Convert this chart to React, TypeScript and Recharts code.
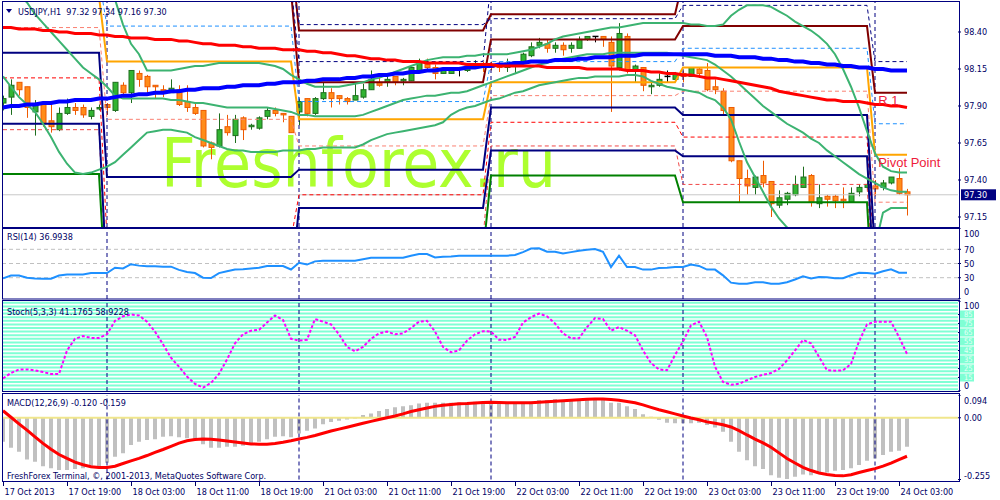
import React from 'react';
import { ComposedChart, Bar, Line, XAxis, YAxis, ReferenceLine, ReferenceDot } from 'recharts';

const FONT = "'DejaVu Sans Condensed', 'DejaVu Sans', sans-serif";
const INK = '#000064';
const NAVY = '#000080';

// ---------- candles (USDJPY H1, bar 0 = 17 Oct 11:00) ----------
const opens = [
  97.92,97.96,98.06,98.03,97.86,97.91,97.80,97.74,97.85,97.89,
  97.89,97.83,97.88,97.91,97.87,98.04,97.99,98.12,98.10,98.04,
  98.01,97.99,98.01,97.93,97.89,97.87,97.65,97.63,97.76,97.70,
  97.82,97.76,97.75,97.83,97.87,97.85,97.83,97.86,97.95,97.85,
  97.95,97.99,97.97,97.95,97.94,97.96,98.01,98.06,98.06,98.10,
  98.07,98.07,98.14,98.18,98.16,98.12,98.12,98.15,98.14,98.16,
  98.18,98.18,98.17,98.16,98.18,98.20,98.24,98.31,98.32,98.29,
  98.31,98.29,98.29,98.35,98.37,98.37,98.33,98.16,98.37,98.14,
  98.16,98.03,98.04,98.10,98.08,98.12,98.10,98.15,98.14,98.03,
  98.00,97.89,97.53,97.41,97.35,97.43,97.39,97.23,97.27,97.30,
  97.35,97.43,97.24,97.29,97.29,97.27,97.25,97.32,97.35,97.36,
  97.35,97.38,97.41,97.32];
const highs = [
  97.97,98.08,98.06,98.03,97.94,97.93,97.92,97.89,97.95,97.92,
  97.91,97.89,97.91,97.92,98.06,98.06,98.14,98.14,98.11,98.04,
  98.04,98.08,98.04,98.04,97.92,97.87,97.66,97.85,97.84,97.84,
  97.83,97.78,97.83,97.89,97.89,97.85,97.83,97.95,97.95,97.96,
  98.06,98.02,97.97,97.96,98.06,98.05,98.14,98.11,98.10,98.10,
  98.09,98.16,98.22,98.22,98.18,98.16,98.16,98.16,98.19,98.21,
  98.20,98.20,98.20,98.22,98.20,98.26,98.33,98.36,98.35,98.33,
  98.33,98.33,98.37,98.37,98.37,98.37,98.37,98.46,98.39,98.18,
  98.16,98.06,98.12,98.14,98.13,98.14,98.16,98.16,98.19,98.08,
  98.02,97.89,97.53,97.47,97.43,97.53,97.39,97.33,97.32,97.43,
  97.49,97.44,97.37,97.30,97.30,97.35,97.35,97.37,97.40,97.40,
  97.40,97.42,97.48,97.34];
const lows = [
  97.87,97.84,97.97,97.82,97.70,97.76,97.72,97.73,97.84,97.84,
  97.82,97.81,97.87,97.84,97.86,97.96,97.92,98.03,97.99,97.95,
  97.96,97.99,97.90,97.86,97.84,97.62,97.54,97.62,97.70,97.65,
  97.67,97.74,97.74,97.81,97.83,97.79,97.72,97.77,97.83,97.84,
  97.94,97.89,97.91,97.91,97.94,97.95,98.01,98.03,98.03,98.04,
  98.04,98.07,98.14,98.14,98.08,98.12,98.12,98.10,98.13,98.16,
  98.13,98.14,98.13,98.13,98.12,98.18,98.23,98.29,98.26,98.26,
  98.24,98.26,98.29,98.34,98.33,98.30,97.86,98.14,98.12,98.06,
  98.00,97.98,98.03,98.06,98.08,98.06,98.10,98.09,98.00,97.98,
  97.84,97.52,97.25,97.30,97.30,97.35,97.15,97.21,97.23,97.29,
  97.35,97.22,97.21,97.22,97.21,97.21,97.25,97.29,97.33,97.29,
  97.33,97.37,97.30,97.16];
const closes = [
  97.95,98.04,98.01,97.89,97.91,97.78,97.76,97.85,97.89,97.87,
  97.84,97.87,97.89,97.89,98.06,97.99,98.14,98.08,98.03,98.03,
  98.00,98.02,97.91,97.89,97.85,97.63,97.62,97.74,97.72,97.81,
  97.74,97.77,97.82,97.87,97.85,97.84,97.72,97.93,97.85,97.95,
  97.99,97.95,97.95,97.93,97.97,98.01,98.08,98.04,98.08,98.06,
  98.08,98.16,98.20,98.16,98.12,98.14,98.14,98.15,98.17,98.18,
  98.17,98.16,98.16,98.19,98.20,98.25,98.30,98.33,98.29,98.31,
  98.28,98.31,98.35,98.37,98.37,98.35,98.17,98.39,98.14,98.17,
  98.04,98.04,98.08,98.10,98.12,98.10,98.16,98.12,98.01,98.01,
  97.87,97.53,97.41,97.36,97.42,97.38,97.24,97.28,97.31,97.37,
  97.42,97.25,97.28,97.27,97.26,97.26,97.31,97.35,97.37,97.34,
  97.38,97.42,97.31,97.30];

// ---------- moving averages ----------
const redMA = [
  98.43,98.43,98.42,98.42,98.42,98.41,98.41,98.40,98.40,98.39,
  98.39,98.39,98.38,98.38,98.37,98.37,98.36,98.36,98.36,98.35,
  98.35,98.35,98.34,98.34,98.33,98.32,98.32,98.31,98.31,98.31,
  98.30,98.30,98.29,98.29,98.29,98.28,98.28,98.28,98.27,98.27,
  98.26,98.26,98.25,98.24,98.24,98.23,98.22,98.22,98.21,98.21,
  98.20,98.20,98.20,98.19,98.19,98.19,98.19,98.19,98.18,98.18,
  98.18,98.18,98.17,98.17,98.17,98.17,98.17,98.17,98.16,98.16,
  98.16,98.16,98.16,98.15,98.15,98.15,98.15,98.15,98.14,98.14,
  98.14,98.13,98.13,98.12,98.12,98.11,98.11,98.10,98.09,98.09,
  98.08,98.07,98.06,98.05,98.04,98.03,98.02,98.00,97.99,97.98,
  97.97,97.96,97.95,97.94,97.94,97.93,97.93,97.93,97.92,97.91,
  97.91,97.90,97.90,97.89];
const blueMA = [
  97.89,97.90,97.90,97.91,97.91,97.92,97.92,97.93,97.93,97.94,
  97.94,97.94,97.95,97.95,97.96,97.97,97.97,97.98,97.98,97.99,
  97.99,98.00,98.00,98.01,98.01,98.02,98.02,98.02,98.03,98.03,
  98.04,98.04,98.04,98.05,98.05,98.06,98.06,98.06,98.07,98.07,
  98.08,98.08,98.08,98.09,98.09,98.10,98.10,98.11,98.11,98.12,
  98.12,98.13,98.13,98.14,98.14,98.15,98.15,98.15,98.16,98.16,
  98.17,98.17,98.18,98.18,98.19,98.19,98.20,98.20,98.20,98.21,
  98.21,98.21,98.22,98.22,98.23,98.23,98.23,98.24,98.24,98.24,
  98.25,98.25,98.25,98.25,98.25,98.25,98.25,98.25,98.25,98.24,
  98.24,98.24,98.23,98.23,98.23,98.22,98.22,98.21,98.21,98.20,
  98.20,98.19,98.19,98.18,98.18,98.17,98.17,98.16,98.16,98.15,
  98.15,98.14,98.14,98.14];

// ---------- Bollinger bands ----------
const bbUpper = [
  99.20,99.15,99.10,99.05,99.00,98.96,98.92,98.88,98.84,98.80,98.77,98.74,98.71,98.67,
  98.62,98.45,98.32,98.25,98.14,98.14,98.14,98.14,98.15,98.16,
  98.17,98.17,98.18,98.19,98.19,98.19,98.19,98.19,98.19,98.18,
  98.17,98.15,98.11,98.08,98.05,98.03,98.03,98.03,98.03,98.04,
  98.05,98.06,98.08,98.09,98.11,98.13,98.15,98.17,98.19,98.21,
  98.22,98.23,98.23,98.23,98.24,98.24,98.25,98.25,98.25,98.25,
  98.26,98.27,98.28,98.30,98.32,98.35,98.37,98.38,98.39,98.40,
  98.41,98.42,98.43,98.43,98.44,98.45,98.46,98.46,98.46,98.46,
  98.46,98.46,98.45,98.45,98.44,98.44,98.45,98.51,98.55,98.58,
  98.58,98.58,98.57,98.54,98.51,98.47,98.44,98.41,98.37,98.32,
  98.25,98.15,98.03,97.89,97.73,97.58,97.49,97.46,97.45,97.45];
const bbMiddle = [
  98.80,98.72,98.65,98.60,98.52,98.46,98.40,98.34,98.28,98.22,
  98.16,98.12,98.08,98.03,97.97,97.95,97.95,97.95,97.95,97.95,
  97.95,97.94,97.94,97.93,97.92,97.92,97.91,97.90,97.89,97.89,
  97.89,97.89,97.89,97.89,97.88,97.87,97.86,97.84,97.84,97.83,
  97.83,97.83,97.83,97.83,97.83,97.84,97.86,97.88,97.90,97.92,
  97.94,97.95,97.96,97.97,97.97,97.98,97.99,97.99,98.00,98.02,
  98.04,98.06,98.08,98.10,98.12,98.14,98.16,98.18,98.19,98.21,
  98.22,98.23,98.24,98.25,98.25,98.25,98.26,98.26,98.26,98.26,
  98.26,98.26,98.26,98.26,98.25,98.24,98.23,98.22,98.21,98.18,
  98.14,98.10,98.05,98.00,97.95,97.90,97.86,97.82,97.78,97.75,
  97.72,97.68,97.65,97.60,97.56,97.52,97.48,97.44,97.41,97.38,
  97.35,97.33,97.32,97.32];
const bbLower = [
  98.10,98.03,97.96,97.91,97.86,97.78,97.69,97.59,97.51,97.45,
  97.44,97.45,97.47,97.49,97.52,97.57,97.62,97.67,97.72,97.73,
  97.74,97.74,97.73,97.72,97.69,97.67,97.65,97.63,97.61,97.60,
  97.60,97.59,97.59,97.59,97.59,97.60,97.60,97.60,97.61,97.61,
  97.62,97.62,97.62,97.62,97.62,97.64,97.67,97.69,97.71,97.72,
  97.73,97.74,97.75,97.76,97.77,97.79,97.84,97.87,97.89,97.90,
  97.92,97.94,97.95,97.97,97.99,98.00,98.02,98.04,98.05,98.06,
  98.07,98.08,98.09,98.09,98.10,98.10,98.10,98.10,98.11,98.11,
  98.10,98.07,98.05,98.03,98.02,98.01,98.00,97.99,97.96,97.94,
  97.89,97.81,97.66,97.52,97.42,97.32,97.22,97.14,97.08,97.03,
  96.98,96.95,96.92,96.90,96.88,96.87,96.87,96.87,96.88,96.95,
  97.18,97.21,97.21,97.21];

// ---------- daily pivot levels (one value per trading day) ----------
const dayStarts = [0, 13, 37, 61, 85, 109];
const pivR2 = [99.20, 98.95, 98.41, 98.52, 98.75, 98.75];
const pivR1 = [98.90, 98.68, 98.06, 98.35, 98.44, 97.99];
const pivN1 = [99.05, 98.80, 98.45, 98.49, 98.58, 98.20];
const pivN2 = [98.95, 98.72, 98.20, 98.75, 98.90, 98.70];
const pivM4 = [98.76, 98.44, 97.93, 98.20, 98.29, 97.78];
const pivP = [98.64, 98.20, 97.81, 98.06, 98.16, 97.57];
const pivM3 = [98.43, 97.81, 97.63, 97.97, 98.00, 97.25];
const pivS1 = [98.26, 97.42, 97.47, 97.89, 97.84, 96.90];
const pivM2 = [98.09, 97.00, 97.30, 97.79, 97.69, 96.80];
const pivS2 = [97.78, 96.70, 97.21, 97.60, 97.56, 96.60];
const pivM1 = [97.74, 96.60, 97.00, 97.63, 97.37, 96.50];
const pivS3 = [97.44, 96.50, 96.90, 97.43, 97.25, 96.30];

// ---------- oscillators ----------
const rsi = [
  29,33,33,30,29,28.5,28.5,33,34.5,34.5,
  34.5,36.5,36.5,36.5,44,43,49,47,46,46,
  45.5,45.5,41,38,36.5,30,29.5,36.5,39,41.5,
  42,43,44,46.5,46.5,46.5,41.5,51,48.5,53,
  54,54,53.7,53.7,54,56,58,58,58,58,
  58,61,63.3,63.3,58.6,59.5,60,61,61,61,
  61,61,61,61,62,66,71,71.4,66.6,66.6,
  64,66,68,69.5,70.4,66.6,45,61,45,45,
  41.4,41.4,43.7,44,45,45,48.6,46.6,41.4,41.4,
  33.3,23,21.4,21.4,23.7,23.7,21.4,21.4,23.7,27.5,
  32,29,30.9,30.5,29.4,29.4,33.5,37,36.5,35.7,
  39,41.9,37,36.99];
const stoch = [
  14,20,24,24,23,21,19,19,45,58,
  61,59,59,63,78,83,85,84,77,66,
  52,37,27,16,8,3.7,9,19,35,53,
  63,67,68,76,84,79,58,56,57,80,
  77,74,63,49,44,49,58,64,66,63,
  64,70,77,78,66,49,43,45,56,63,
  66.5,66,57,56.7,60,76,82,86,83,75,
  64,58.5,58.5,71,81,80,67,71,67,62,
  45,31,24,23,40,55,73,77,60,27,
  10,7,8,12,15.5,18,20,24.5,34,45,
  56.7,53,38,23,22.6,23,30,55,74,77,
  77,77,60,41.18];
const macdHist = [
  -0.099,-0.124,-0.140,-0.172,-0.182,-0.200,-0.209,-0.216,-0.216,-0.212,
  -0.209,-0.202,-0.200,-0.186,-0.161,-0.147,-0.113,-0.099,-0.092,-0.089,
  -0.078,-0.076,-0.081,-0.085,-0.092,-0.109,-0.124,-0.124,-0.120,-0.120,
  -0.116,-0.109,-0.099,-0.089,-0.078,-0.076,-0.081,-0.065,-0.054,-0.044,
  -0.027,-0.017,-0.012,-0.007,-0.003,0.011,0.018,0.028,0.036,0.043,
  0.048,0.052,0.059,0.062,0.062,0.062,0.062,0.063,0.063,0.066,
  0.066,0.066,0.066,0.057,0.057,0.059,0.066,0.073,0.073,0.077,
  0.073,0.073,0.075,0.077,0.080,0.073,0.062,0.062,0.048,0.036,
  0.015,0.004,-0.008,-0.021,-0.023,-0.023,-0.023,-0.021,-0.030,-0.040,
  -0.058,-0.099,-0.140,-0.175,-0.200,-0.212,-0.237,-0.248,-0.253,-0.244,
  -0.234,-0.237,-0.230,-0.226,-0.219,-0.216,-0.209,-0.195,-0.178,-0.168,
  -0.154,-0.140,-0.136,-0.120];
const macdSignal = [
  0.029,0.002,-0.025,-0.051,-0.079,-0.106,-0.130,-0.152,-0.168,-0.183,
  -0.194,-0.202,-0.205,-0.205,-0.200,-0.189,-0.178,-0.168,-0.156,-0.143,
  -0.131,-0.118,-0.105,-0.095,-0.090,-0.088,-0.089,-0.092,-0.096,-0.100,
  -0.104,-0.108,-0.109,-0.109,-0.106,-0.101,-0.095,-0.088,-0.081,-0.073,
  -0.064,-0.055,-0.047,-0.039,-0.031,-0.023,-0.015,-0.007,0.000,0.007,
  0.016,0.026,0.033,0.040,0.047,0.052,0.055,0.058,0.059,0.061,
  0.063,0.064,0.063,0.062,0.062,0.062,0.062,0.064,0.066,0.068,
  0.070,0.072,0.074,0.076,0.077,0.077,0.075,0.072,0.067,0.062,
  0.053,0.043,0.033,0.025,0.016,0.007,-0.001,-0.008,-0.017,-0.023,
  -0.029,-0.038,-0.053,-0.071,-0.088,-0.104,-0.122,-0.145,-0.168,-0.187,
  -0.205,-0.218,-0.228,-0.234,-0.238,-0.240,-0.235,-0.226,-0.218,-0.210,
  -0.200,-0.187,-0.173,-0.159];

// ---------- axes ----------
const timeLabels = ['17 Oct 2013','17 Oct 19:00','18 Oct 03:00','18 Oct 11:00','18 Oct 19:00',
  '21 Oct 03:00','21 Oct 11:00','21 Oct 19:00','22 Oct 03:00','22 Oct 11:00','22 Oct 19:00',
  '23 Oct 03:00','23 Oct 11:00','23 Oct 19:00','24 Oct 03:00'];
const timeTickBars = [0,8,16,24,32,40,48,56,64,72,80,88,96,104,112];
const separatorBars = [13, 37, 61, 85, 109];
const priceTicks = [97.15, 97.40, 97.65, 97.90, 98.15, 98.40];
const rsiTicks = [0, 30, 50, 70, 100];
const rsiLevels = [30, 50, 70];
const stochTicks = [0, 15, 25, 35, 45, 55, 65, 75, 85, 100];
const stochBands = [2,6,10,14,18,22,26,30,34,38,42,46,50,54,58,62,66,70,74,78,82,86,90,94,98];
const macdTicks = [-0.255, 0, 0.094];
const lastPrice = 97.30;

const X_DOMAIN: [number, number] = [-0.125, 119.375];
const PRICE_DOMAIN: [number, number] = [97.0824, 98.6027];

const dayOf = (i: number) => {
  let d = 0;
  dayStarts.forEach((s, k) => { if (i >= s) d = k; });
  return d;
};

const rows = opens.map((o, i) => {
  const d = dayOf(i);
  return {
    i, open: o, high: highs[i], low: lows[i], close: closes[i], hl: [lows[i], highs[i]],
    red: redMA[i], blue: blueMA[i], up: bbUpper[i], mid: bbMiddle[i], lo: bbLower[i],
    r2: pivR2[d], r1: pivR1[d], n1: pivN1[d], n2: pivN2[d], m4: pivM4[d], p: pivP[d],
    m3: pivM3[d], s1: pivS1[d], m2: pivM2[d], s2: pivS2[d], m1: pivM1[d], s3: pivS3[d],
    rsi: rsi[i], stoch: stoch[i], hist: macdHist[i], sig: macdSignal[i],
  };
});

const Candle = (props: any) => {
  const { x, y, width, height, payload } = props;
  if (x == null || y == null) return null;
  const top = Math.min(y, y + height);
  const h = Math.abs(height);
  const { open, close, high, low } = payload;
  const ratio = high > low ? h / (high - low) : 0;
  const bTop = Math.max(open, close);
  const bBot = Math.min(open, close);
  const bodyY = top + (high - bTop) * ratio;
  const bodyH = Math.max(1, (bTop - bBot) * ratio);
  const cx = Math.round(x + width / 2) + 0.5;
  const doji = open === close;
  const bull = close > open;
  const stroke = doji ? '#000000' : bull ? '#1E6E1E' : '#EE5A00';
  const fill = bull ? '#32B432' : '#FF8C1A';
  return (
    <g>
      <line x1={cx} x2={cx} y1={top} y2={top + h} stroke={stroke} strokeWidth={1} />
      {doji ? (
        <line x1={cx - 3} x2={cx + 3} y1={bodyY} y2={bodyY} stroke="#000" strokeWidth={1.5} />
      ) : (
        <rect x={cx - 2.5} y={bodyY} width={5} height={bodyH} fill={fill} stroke={stroke} strokeWidth={1} />
      )}
    </g>
  );
};

const txt = { fontSize: 9, fontFamily: FONT, fill: INK } as const;

const PriceTick = (p: any) => (
  <text x={p.x} y={p.y} dy={3.2} {...txt}>{Number(p.payload.value).toFixed(2)}</text>
);

const clampTick = (fmt: (v: number) => string, lo: number, hi: number, aqua?: (v: number) => boolean) => (p: any) => {
  const v = Number(p.payload.value);
  const y = Math.min(hi, Math.max(lo, p.y));
  if (aqua && aqua(v)) {
    return (
      <g>
        <rect x={p.x - 4} y={y - 4} width={14} height={8} fill="#7FFFD4" />
        <text x={p.x} y={y} dy={2.8} fontSize={7.5} fontFamily={FONT} fill="#E6FFF7">{fmt(v)}</text>
      </g>
    );
  }
  return <text x={p.x} y={y} dy={3.2} {...txt}>{fmt(v)}</text>;
};

const RsiTick = clampTick((v) => String(v), 6, 64);
const StochTick = clampTick((v) => String(v), 5, 85, (v) => v !== 0 && v !== 100);
const MacdTick = clampTick((v) => (v === 0 ? '0.00' : v.toFixed(3)), 6, 81);

const TimeTick = (p: any) => {
  const idx = timeTickBars.indexOf(Number(p.payload.value));
  const x = Math.round(p.x) + 0.5;
  return (
    <g>
      <line x1={x} x2={x} y1={p.y + 2.5} y2={p.y + 6.5} stroke={INK} strokeWidth={1} />
      <text x={x + 1} y={p.y + 15.5} {...txt}>{timeLabels[idx]}</text>
    </g>
  );
};

const PriceBox = (props: any) => {
  const vb = props.viewBox || {};
  const x = (vb.x || 0) + (vb.width || 0) + 3;
  const y = vb.y || 0;
  return (
    <g>
      <rect x={x} y={y - 5.5} width={35} height={11} fill={NAVY} />
      <text x={x + 3} y={y} dy={3.2} fontSize={9} fontFamily={FONT} fill="#FFFFFF">{lastPrice.toFixed(2)}</text>
    </g>
  );
};

const levelLabel = (text: string) => (p: any) => (
  <text x={p.cx} y={p.cy + 12.5} fontSize={13} fontFamily="'Liberation Sans', Arial, sans-serif" fill="#EE1C3C">{text}</text>
);

const xAxisHidden = <XAxis dataKey="i" type="number" domain={X_DOMAIN} allowDataOverflow hide />;

const separators = separatorBars.map((b) => (
  <ReferenceLine key={'sep' + b} x={b} stroke={NAVY} strokeDasharray="4 3" strokeWidth={1} />
));

const lineProps = { type: 'linear' as const, dot: false, activeDot: false, isAnimationActive: false, legendType: 'none' as const };

const pivotLines = [
  { k: 'r2', c: '#800000', w: 2, d: undefined },
  { k: 'r1', c: '#800000', w: 2, d: undefined },
  { k: 'n1', c: NAVY, w: 1, d: '4 3' },
  { k: 'n2', c: NAVY, w: 1, d: '4 3' },
  { k: 'm4', c: '#1E90FF', w: 1, d: '4 3' },
  { k: 'm3', c: '#FA8072', w: 1, d: '4 3' },
  { k: 'm2', c: '#FF0000', w: 1, d: '4 3' },
  { k: 'm1', c: '#F04848', w: 1, d: '4 3' },
  { k: 's3', c: '#008000', w: 2, d: undefined },
  { k: 's2', c: NAVY, w: 2, d: undefined },
  { k: 's1', c: NAVY, w: 2, d: undefined },
  { k: 'p', c: '#FFA500', w: 2, d: undefined },
];

export default function App() {
  return (
    <div style={{ position: 'fixed', left: 0, top: 0, width: 1000, height: 500, background: '#FFFFFF', overflow: 'hidden' }}>
      {/* watermark behind everything */}
      <svg width={1000} height={500} style={{ position: 'absolute', left: 0, top: 0 }}>
        <text x={161} y={187} fontSize={67} fontFamily={FONT} fill="#ADFF2F">Freshforex.ru</text>
      </svg>

      {/* main price pane */}
      <div style={{ position: 'absolute', left: 0, top: 0 }}>
        <ComposedChart width={1000} height={229} data={rows} margin={{ top: 2, right: 0, bottom: 2, left: 2 }}>
          {xAxisHidden}
          <YAxis orientation="right" width={42} domain={PRICE_DOMAIN} allowDataOverflow ticks={priceTicks} interval={0}
            tickSize={3} tickMargin={3} axisLine={false} tickLine={{ stroke: INK }} tick={PriceTick} />
          {separators}
          <ReferenceLine y={lastPrice} stroke="#C8C8C8" strokeWidth={1} label={<PriceBox />} />
          {pivotLines.map((l) => (
            <Line key={l.k} dataKey={l.k} stroke={l.c} strokeWidth={l.w} strokeDasharray={l.d} {...lineProps} />
          ))}
          <Line dataKey="up" stroke="#3CB371" strokeWidth={2} {...lineProps} />
          <Line dataKey="mid" stroke="#3CB371" strokeWidth={2} {...lineProps} />
          <Line dataKey="lo" stroke="#3CB371" strokeWidth={2} {...lineProps} />
          <Line dataKey="blue" stroke="#0000FF" strokeWidth={4} {...lineProps} />
          <Line dataKey="red" stroke="#FF0000" strokeWidth={3} {...lineProps} />
          <Bar dataKey="hl" barSize={5} shape={Candle} isAnimationActive={false} legendType="none" />
          <ReferenceDot x={109.4} y={pivR1[5]} r={0} shape={levelLabel('R 1')} />
          <ReferenceDot x={109.4} y={pivP[5]} r={0} shape={levelLabel('Pivot Point')} />
        </ComposedChart>
      </div>

      {/* RSI pane */}
      <div style={{ position: 'absolute', left: 0, top: 228 }}>
        <ComposedChart width={1000} height={71} data={rows} margin={{ top: 0, right: 0, bottom: 0, left: 2 }}>
          {xAxisHidden}
          <YAxis orientation="right" width={42} domain={[0, 100]} allowDataOverflow ticks={rsiTicks} interval={0}
            tickSize={3} tickMargin={3} axisLine={false} tickLine={{ stroke: INK }} tick={RsiTick} />
          {separators}
          {rsiLevels.map((lv) => (
            <ReferenceLine key={'rl' + lv} y={lv} stroke="#C0C0C0" strokeDasharray="4 3" strokeWidth={1} />
          ))}
          <Line dataKey="rsi" stroke="#1E90FF" strokeWidth={2} {...lineProps} />
        </ComposedChart>
      </div>

      {/* Stochastic pane */}
      <div style={{ position: 'absolute', left: 0, top: 301 }}>
        <ComposedChart width={1000} height={90} data={rows} margin={{ top: 0, right: 0, bottom: 0, left: 2 }}>
          {xAxisHidden}
          <YAxis orientation="right" width={42} domain={[0, 100]} allowDataOverflow ticks={stochTicks} interval={0}
            tickSize={3} tickMargin={3} axisLine={false} tickLine={{ stroke: INK }} tick={StochTick} />
          {stochBands.map((lv) => (
            <ReferenceLine key={'sb' + lv} y={lv} stroke="#7FFFD4" strokeWidth={2} />
          ))}
          {separators}
          <Line dataKey="stoch" stroke="#FF00FF" strokeWidth={2} strokeDasharray="3 2" {...lineProps} />
        </ComposedChart>
      </div>

      {/* MACD pane + time axis */}
      <div style={{ position: 'absolute', left: 0, top: 395 }}>
        <ComposedChart width={1000} height={105} data={rows} margin={{ top: 0, right: 0, bottom: 0, left: 2 }}>
          <XAxis dataKey="i" type="number" domain={X_DOMAIN} allowDataOverflow ticks={timeTickBars} interval={0}
            height={20.5} axisLine={false} tickLine={false} tickSize={0} tickMargin={0} tick={TimeTick} />
          <YAxis orientation="right" width={42} domain={[-0.255, 0.094]} allowDataOverflow ticks={macdTicks} interval={0}
            tickSize={3} tickMargin={3} axisLine={false} tickLine={{ stroke: INK }} tick={MacdTick} />
          {separators}
          <ReferenceLine y={0} stroke="#F0E68C" strokeWidth={2} />
          <Bar dataKey="hist" fill="#C0C0C0" barSize={4} isAnimationActive={false} legendType="none" />
          <Line dataKey="sig" stroke="#FF0000" strokeWidth={3} {...lineProps} />
        </ComposedChart>
      </div>

      {/* frames and captions */}
      <svg width={1000} height={500} style={{ position: 'absolute', left: 0, top: 0, pointerEvents: 'none' }}>
        <rect x={2.5} y={1.5} width={957} height={226} fill="none" stroke={NAVY} strokeWidth={1} />
        <rect x={2.5} y={228.5} width={957} height={70.5} fill="none" stroke={NAVY} strokeWidth={1} />
        <rect x={2.5} y={300.5} width={957} height={91} fill="none" stroke={NAVY} strokeWidth={1} />
        <rect x={2.5} y={393.5} width={957} height={88} fill="none" stroke={NAVY} strokeWidth={1} />
        <polygon points="6,9 12,9 9,13" fill={NAVY} />
        <text x={18} y={14.5} {...txt} style={{ whiteSpace: 'pre' }}>{'USDJPY,H1  97.32 97.34 97.16 97.30'}</text>
        <text x={7} y={239.5} {...txt}>RSI(14) 36.9938</text>
        <text x={7} y={314.5} {...txt}>Stoch(5,3,3) 41.1765 58.9228</text>
        <text x={7} y={406} {...txt}>MACD(12,26,9) -0.120 -0.159</text>
        <text x={7} y={478.5} {...txt}>FreshForex Terminal, ©, 2001-2013, MetaQuotes Software Corp.</text>
      </svg>
    </div>
  );
}
